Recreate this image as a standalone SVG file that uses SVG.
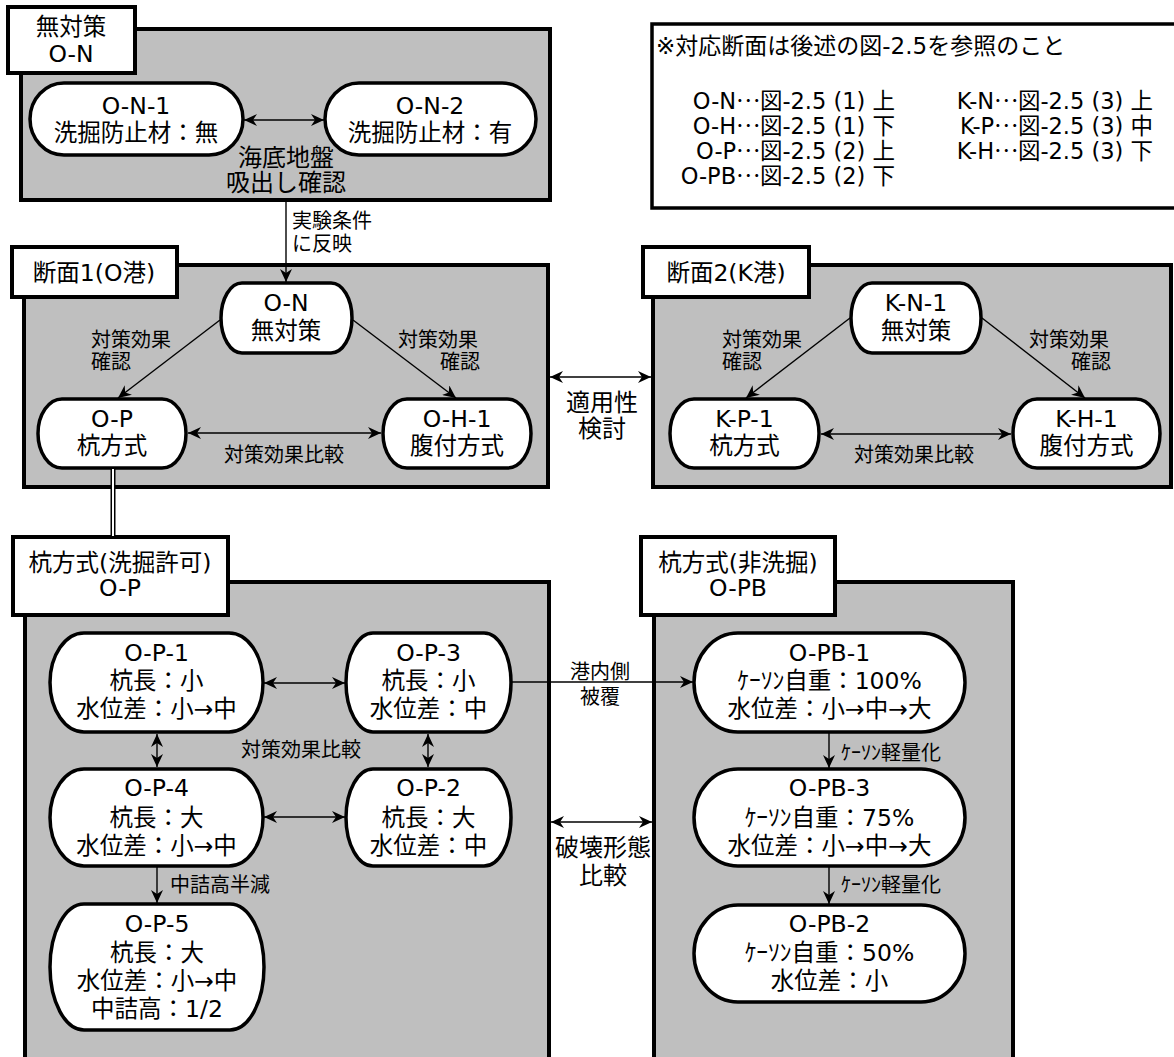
<svg xmlns="http://www.w3.org/2000/svg" width="1174" height="1057" viewBox="0 0 1174 1057">
<defs>
<style>
text{font-family:'DejaVu Sans','Noto Sans CJK JP',sans-serif;fill:#000}
.t{font-size:23.5px;text-anchor:middle}
.s{font-size:20px}
.sc{font-size:20px;text-anchor:middle}
.m{font-size:24px;text-anchor:middle}
.n{font-size:22.5px}
.j{font-family:'Noto Sans CJK JP',sans-serif}
.grp{fill:#BFBFBF;stroke:#000;stroke-width:4}
.lab{fill:#fff;stroke:#000;stroke-width:4}
.pill{fill:#fff;stroke:#000;stroke-width:3.5}
.c{fill:none;stroke:#000;stroke-width:1.4}
.a{marker-end:url(#ah)}
.aa{marker-end:url(#ah);marker-start:url(#ah)}
</style>
<marker id="ah" markerUnits="userSpaceOnUse" markerWidth="14" markerHeight="12" refX="13" refY="6" orient="auto-start-reverse" viewBox="0 0 14 12">
<path d="M0,0 L13,6 L0,12 L4,6 Z" fill="#000"/>
</marker>
</defs>
<rect width="1174" height="1057" fill="#fff"/>

<!-- Top-left group: 無対策 -->
<g id="grp-ON">
<rect class="grp" x="21" y="29" width="529" height="171"/>
<rect class="lab" x="8" y="7" width="127" height="66"/>
<text class="t" x="71" y="35">無対策</text>
<text class="t" x="71" y="62">O-N</text>
<text class="m" x="286" y="166">海底地盤</text>
<text class="m" x="286" y="191">吸出し確認</text>
</g>
<g id="node-ON1">
<rect class="pill" x="30" y="83" width="213" height="72" rx="34" ry="36"/>
<text class="t" x="136" y="113.5">O-N-1</text>
<text class="t" x="136" y="140.5">洗掘防止材：無</text>
</g>
<g id="node-ON2">
<rect class="pill" x="325" y="83" width="211" height="72" rx="34" ry="36"/>
<text class="t" x="430" y="113.5">O-N-2</text>
<text class="t" x="430" y="140.5">洗掘防止材：有</text>
</g>

<!-- Note -->
<g id="note">
<rect fill="#fff" stroke="#000" stroke-width="3.5" x="652" y="24" width="530" height="184"/>
<text class="n" x="656" y="54" style="font-size:23px">※対応断面は後述の図-2.5を参照のこと</text>
<g style="text-anchor:end">
<text class="n" x="895" y="108.5">O-N<tspan class="j" dy="-7">…</tspan><tspan dy="7">図-2.5 (1) 上</tspan></text>
<text class="n" x="895" y="133.5">O-H<tspan class="j" dy="-7">…</tspan><tspan dy="7">図-2.5 (1) 下</tspan></text>
<text class="n" x="895" y="158.5">O-P<tspan class="j" dy="-7">…</tspan><tspan dy="7">図-2.5 (2) 上</tspan></text>
<text class="n" x="895" y="183.5">O-PB<tspan class="j" dy="-7">…</tspan><tspan dy="7">図-2.5 (2) 下</tspan></text>
<text class="n" x="1153" y="108.5">K-N<tspan class="j" dy="-7">…</tspan><tspan dy="7">図-2.5 (3) 上</tspan></text>
<text class="n" x="1153" y="133.5">K-P<tspan class="j" dy="-7">…</tspan><tspan dy="7">図-2.5 (3) 中</tspan></text>
<text class="n" x="1153" y="158.5">K-H<tspan class="j" dy="-7">…</tspan><tspan dy="7">図-2.5 (3) 下</tspan></text>
</g>
</g>

<!-- Section 1 -->
<g id="grp-sec1">
<rect class="grp" x="24" y="265" width="524" height="222"/>
<rect class="lab" x="12" y="247" width="165" height="50"/>
<text class="t" x="94" y="280.5">断面1(O港)</text>
</g>
<g id="node-ON">
<rect class="pill" x="221" y="283" width="131" height="70" rx="21" ry="35"/>
<text class="t" x="286" y="310.5">O-N</text>
<text class="t" x="286" y="338.5">無対策</text>
</g>
<g id="node-OP">
<rect class="pill" x="38" y="399" width="148" height="69" rx="24" ry="34.5"/>
<text class="t" x="112" y="426.5">O-P</text>
<text class="t" x="112" y="453.5">杭方式</text>
</g>
<g id="node-OH1">
<rect class="pill" x="383" y="399" width="148" height="69" rx="24" ry="34.5"/>
<text class="t" x="457" y="426.5">O-H-1</text>
<text class="t" x="457" y="453.5">腹付方式</text>
</g>

<!-- Section 2 -->
<g id="grp-sec2">
<rect class="grp" x="653" y="265" width="518" height="222"/>
<rect class="lab" x="643" y="247" width="166" height="50"/>
<text class="t" x="726" y="280.5">断面2(K港)</text>
</g>
<g id="node-KN1">
<rect class="pill" x="851" y="283" width="130" height="70" rx="21" ry="35"/>
<text class="t" x="916" y="310.5">K-N-1</text>
<text class="t" x="916" y="338.5">無対策</text>
</g>
<g id="node-KP1">
<rect class="pill" x="670" y="399" width="149" height="69" rx="24" ry="34.5"/>
<text class="t" x="744.5" y="426.5">K-P-1</text>
<text class="t" x="744.5" y="453.5">杭方式</text>
</g>
<g id="node-KH1">
<rect class="pill" x="1013" y="399" width="147" height="69" rx="24" ry="34.5"/>
<text class="t" x="1086.5" y="426.5">K-H-1</text>
<text class="t" x="1086.5" y="453.5">腹付方式</text>
</g>

<!-- Bottom-left group -->
<g id="grp-OP">
<rect class="grp" x="25" y="582" width="524" height="490"/>
<rect class="lab" x="13" y="537" width="215" height="78"/>
<text class="t" x="120" y="570.5">杭方式(洗掘許可)</text>
<text class="t" x="120" y="596">O-P</text>
</g>
<g id="node-OP1">
<rect class="pill" x="50" y="633" width="213" height="99" rx="34" ry="49.5"/>
<text class="t" x="156.5" y="660.5">O-P-1</text>
<text class="t" x="156.5" y="688.5">杭長：小</text>
<text class="t" x="156.5" y="716.5">水位差：小→中</text>
</g>
<g id="node-OP3">
<rect class="pill" x="346" y="633" width="165" height="99" rx="27" ry="49.5"/>
<text class="t" x="428.5" y="660.5">O-P-3</text>
<text class="t" x="428.5" y="688.5">杭長：小</text>
<text class="t" x="428.5" y="716.5">水位差：中</text>
</g>
<g id="node-OP4">
<rect class="pill" x="50" y="769" width="213" height="97" rx="34" ry="48.5"/>
<text class="t" x="156.5" y="795.5">O-P-4</text>
<text class="t" x="156.5" y="825.5">杭長：大</text>
<text class="t" x="156.5" y="853.5">水位差：小→中</text>
</g>
<g id="node-OP2">
<rect class="pill" x="346" y="769" width="165" height="97" rx="27" ry="48.5"/>
<text class="t" x="428.5" y="795.5">O-P-2</text>
<text class="t" x="428.5" y="825.5">杭長：大</text>
<text class="t" x="428.5" y="853.5">水位差：中</text>
</g>
<g id="node-OP5">
<rect class="pill" x="50" y="904" width="214" height="126" rx="34" ry="63"/>
<text class="t" x="157" y="931.5">O-P-5</text>
<text class="t" x="157" y="960.5">杭長：大</text>
<text class="t" x="157" y="988.5">水位差：小→中</text>
<text class="t" x="157" y="1016.5">中詰高：1/2</text>
</g>

<!-- Bottom-right group -->
<g id="grp-OPB">
<rect class="grp" x="654" y="582" width="359" height="490"/>
<rect class="lab" x="641" y="537" width="194" height="78"/>
<text class="t" x="738" y="570.5">杭方式(非洗掘)</text>
<text class="t" x="738" y="596">O-PB</text>
</g>
<g id="node-OPB1">
<rect class="pill" x="694" y="633" width="271" height="99" rx="44" ry="49.5"/>
<text class="t" x="829.5" y="660.5">O-PB-1</text>
<text class="t" x="829.5" y="688.5">ｹｰｿﾝ自重：100%</text>
<text class="t" x="829.5" y="716.5">水位差：小→中→大</text>
</g>
<g id="node-OPB3">
<rect class="pill" x="694" y="769" width="271" height="97" rx="44" ry="48.5"/>
<text class="t" x="829.5" y="795.5">O-PB-3</text>
<text class="t" x="829.5" y="825.5">ｹｰｿﾝ自重：75%</text>
<text class="t" x="829.5" y="853.5">水位差：小→中→大</text>
</g>
<g id="node-OPB2">
<rect class="pill" x="694" y="905" width="271" height="97" rx="44" ry="48.5"/>
<text class="t" x="829.5" y="931.5">O-PB-2</text>
<text class="t" x="829.5" y="960.5">ｹｰｿﾝ自重：50%</text>
<text class="t" x="829.5" y="988.5">水位差：小</text>
</g>

<!-- Connectors -->
<g id="connectors">
<line class="c aa" x1="244" y1="120" x2="324" y2="120"/>
<line class="c a" x1="286" y1="202" x2="286" y2="282"/>
<text class="s" x="292" y="228">実験条件</text>
<text class="s" x="292" y="251">に反映</text>

<line class="c a" x1="220" y1="320" x2="118" y2="398"/>
<line class="c a" x1="353" y1="320" x2="456" y2="398"/>
<text class="s" x="91" y="347">対策効果</text>
<text class="s" x="91" y="369">確認</text>
<text class="s" x="398" y="347">対策効果</text>
<text class="s" x="480" y="369" style="text-anchor:end">確認</text>
<line class="c aa" x1="188" y1="433" x2="381" y2="433"/>
<text class="sc" x="284" y="462">対策効果比較</text>

<line class="c a" x1="850" y1="318" x2="746" y2="398"/>
<line class="c a" x1="982" y1="318" x2="1085" y2="398"/>
<text class="s" x="722" y="347">対策効果</text>
<text class="s" x="722" y="369">確認</text>
<text class="s" x="1029" y="347">対策効果</text>
<text class="s" x="1111" y="369" style="text-anchor:end">確認</text>
<line class="c aa" x1="821" y1="434" x2="1011" y2="434"/>
<text class="sc" x="914" y="462">対策効果比較</text>

<line class="c aa" x1="550" y1="377" x2="651" y2="377"/>
<text class="m" x="602" y="410.5">適用性</text>
<text class="m" x="602" y="436.5">検討</text>

<line stroke="#000" stroke-width="5" x1="113" y1="469" x2="113" y2="536"/>
<line stroke="#fff" stroke-width="2" x1="113" y1="469" x2="113" y2="536"/>

<line class="c aa" x1="264" y1="683" x2="345" y2="683"/>
<line class="c aa" x1="157" y1="734" x2="157" y2="767"/>
<line class="c aa" x1="428" y1="734" x2="428" y2="767"/>
<text class="sc" x="301" y="757">対策効果比較</text>
<line class="c aa" x1="264" y1="817" x2="345" y2="817"/>
<line class="c a" x1="157" y1="867" x2="157" y2="903"/>
<text class="s" x="170" y="892">中詰高半減</text>

<line class="c a" x1="512" y1="682" x2="693" y2="682"/>
<text class="sc" x="600" y="679">港内側</text>
<text class="sc" x="600" y="704">被覆</text>
<line class="c aa" x1="551" y1="822" x2="652" y2="822"/>
<text class="m" x="603" y="855.5">破壊形態</text>
<text class="m" x="603" y="883.5">比較</text>

<line class="c a" x1="829" y1="733" x2="829" y2="768"/>
<text class="s" x="841" y="760">ｹｰｿﾝ軽量化</text>
<line class="c a" x1="829" y1="867" x2="829" y2="904"/>
<text class="s" x="841" y="892">ｹｰｿﾝ軽量化</text>
</g>
</svg>
